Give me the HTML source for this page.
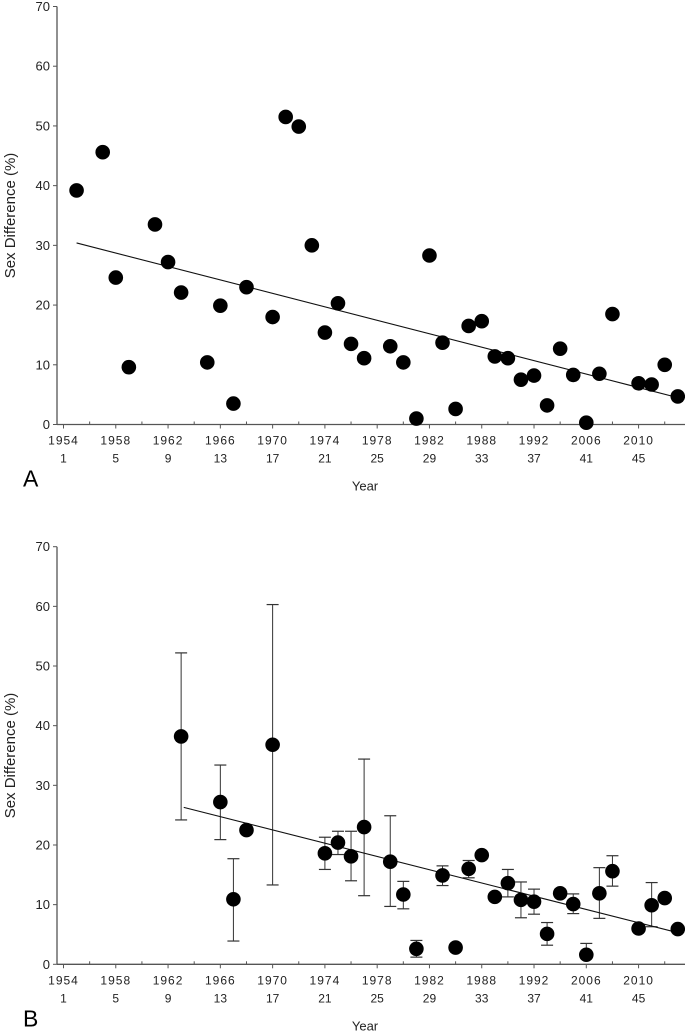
<!DOCTYPE html>
<html><head><meta charset="utf-8"><style>
html,body{margin:0;padding:0;background:#fff;}
svg{display:block;font-family:"Liberation Sans",sans-serif;}
</style></head><body>
<svg id="chart" width="685" height="1034" viewBox="0 0 685 1034"></svg>
<script>
const yearLabels=["1954","1958","1962","1966","1970","1974","1978","1982","1988","1992","2006","2010"];
const indexLabels=[1,5,9,13,17,21,25,29,33,37,41,45];
const yTicks=[0,10,20,30,40,50,60,70];
const aIdx=[2,4,5,6,8,9,10,12,13,14,15,17,18,19,20,21,22,23,24,26,27,28,29,30,31,32,33,34,35,36,37,38,39,40,41,42,43,45,46,47,48];
const aVal=[39.2,45.6,24.6,9.6,33.5,27.2,22.1,10.4,19.9,3.5,23.0,18.0,51.5,49.9,30.0,15.4,20.3,13.5,11.1,13.1,10.4,1.0,28.3,13.7,2.6,16.5,17.3,11.4,11.1,7.5,8.2,3.2,12.7,8.3,0.3,8.5,18.5,6.9,6.7,10.0,4.7];
const aTrend=[[2,30.4],[48,4.5]];
const bIdx=[10,13,14,15,17,21,22,23,24,26,27,28,30,31,32,33,34,35,36,37,38,39,40,41,42,43,45,46,47,48];
const bVal=[38.2,27.2,10.9,22.5,36.8,18.6,20.4,18.1,23.0,17.2,11.7,2.6,14.9,2.8,16.0,18.3,11.3,13.6,10.8,10.5,5.1,11.9,10.1,1.6,11.9,15.6,6.0,9.9,11.1,5.9];
const bHi=[52.2,33.4,17.7,null,60.3,21.3,22.3,22.3,34.4,24.9,13.9,4.0,16.5,null,17.4,null,null,15.9,13.8,12.6,7.0,null,11.8,3.5,16.2,18.2,null,13.7,null,null];
const bLo=[24.2,20.9,3.9,null,13.3,15.9,18.4,14.0,11.5,9.7,9.3,1.2,13.2,null,14.5,null,null,11.3,7.8,8.4,3.2,null,8.5,null,7.7,13.1,null,6.3,null,null];
const bTrend=[[10.2,26.3],[48,5.3]];

const NS="http://www.w3.org/2000/svg";
const svg=document.getElementById('chart');
function mk(t,a,p){const e=document.createElementNS(NS,t);for(const k in a)e.setAttribute(k,a[k]);(p||svg).appendChild(e);return e;}
const xS=i=>63.5+(i-1)*13.07;

function panel(name,y0,y70,letter,idx,val,trend,hi,lo){
  const g=mk('g',{});
  
  
  const yS=v=>y0-(v/70)*(y0-y70);
  const ax=mk('g',{},g);
  
  
  mk('line',{x1:57,y1:y70,x2:57,y2:y0,stroke:'#555','stroke-width':1.3},ax);
  yTicks.forEach(t=>{
    mk('line',{x1:53,y1:yS(t),x2:57,y2:yS(t),stroke:'#555','stroke-width':1},ax);
    const tx=mk('text',{x:50,y:yS(t)+4.5,'text-anchor':'end','font-size':13,fill:'#222'},ax);
    tx.textContent=t;
  });
  const yl=mk('text',{x:0,y:0,transform:`translate(15,${(y0+y70)/2}) rotate(-90)`,'text-anchor':'middle','font-size':15,fill:'#222'},g);
  
  
  yl.textContent='Sex Difference (%)';
  const xa=mk('g',{},g);
  
  
  mk('line',{x1:57,y1:y0,x2:685,y2:y0,stroke:'#555','stroke-width':1.3},xa);
  for(let i=1;i<=48;i+=2){
    const major=((i-1)%4===0);
    mk('line',{x1:xS(i),y1:major?y0:y0-3,x2:xS(i),y2:major?y0+4:y0,stroke:'#555','stroke-width':1},xa);
  }
  yearLabels.forEach((l,k)=>{
    const t=mk('text',{x:xS(indexLabels[k]),y:y0+20,'text-anchor':'middle','font-size':12,'letter-spacing':1,fill:'#222'},xa);
    t.textContent=l;
    const t2=mk('text',{x:xS(indexLabels[k]),y:y0+38,'text-anchor':'middle','font-size':12,fill:'#222'},xa);
    t2.textContent=indexLabels[k];
  });
  const xt=mk('text',{x:365,y:y0+66,'text-anchor':'middle','font-size':13,fill:'#222'},g);
  
  
  xt.textContent='Year';
  const lt=mk('text',{x:23,y:y0+62,'font-size':23,fill:'#000'},g);
  
  
  lt.textContent=letter;
  if(hi){
    idx.forEach((i,k)=>{
      const x=xS(i);
      if(hi[k]!=null){mk('line',{x1:x,y1:yS(val[k]),x2:x,y2:yS(hi[k]),stroke:'#333','stroke-width':1},g);mk('line',{x1:x-6,y1:yS(hi[k]),x2:x+6,y2:yS(hi[k]),stroke:'#333','stroke-width':1.2},g);}
      if(lo[k]!=null){mk('line',{x1:x,y1:yS(val[k]),x2:x,y2:yS(lo[k]),stroke:'#333','stroke-width':1},g);mk('line',{x1:x-6,y1:yS(lo[k]),x2:x+6,y2:yS(lo[k]),stroke:'#333','stroke-width':1.2},g);}
    });
  }
  const tl=mk('line',{x1:xS(trend[0][0]),y1:yS(trend[0][1]),x2:xS(trend[1][0]),y2:yS(trend[1][1]),stroke:'#111','stroke-width':1.1},g);
  
  
  idx.forEach((i,k)=>{
    const c=mk('circle',{cx:xS(i),cy:yS(val[k]),r:7.3,fill:'#000'},g);
    
    
  });
}
panel('a',424.5,6.5,'A',aIdx,aVal,aTrend,null,null);
panel('b',964.3,546.7,'B',bIdx,bVal,bTrend,bHi,bLo);
</script>
</body></html>
